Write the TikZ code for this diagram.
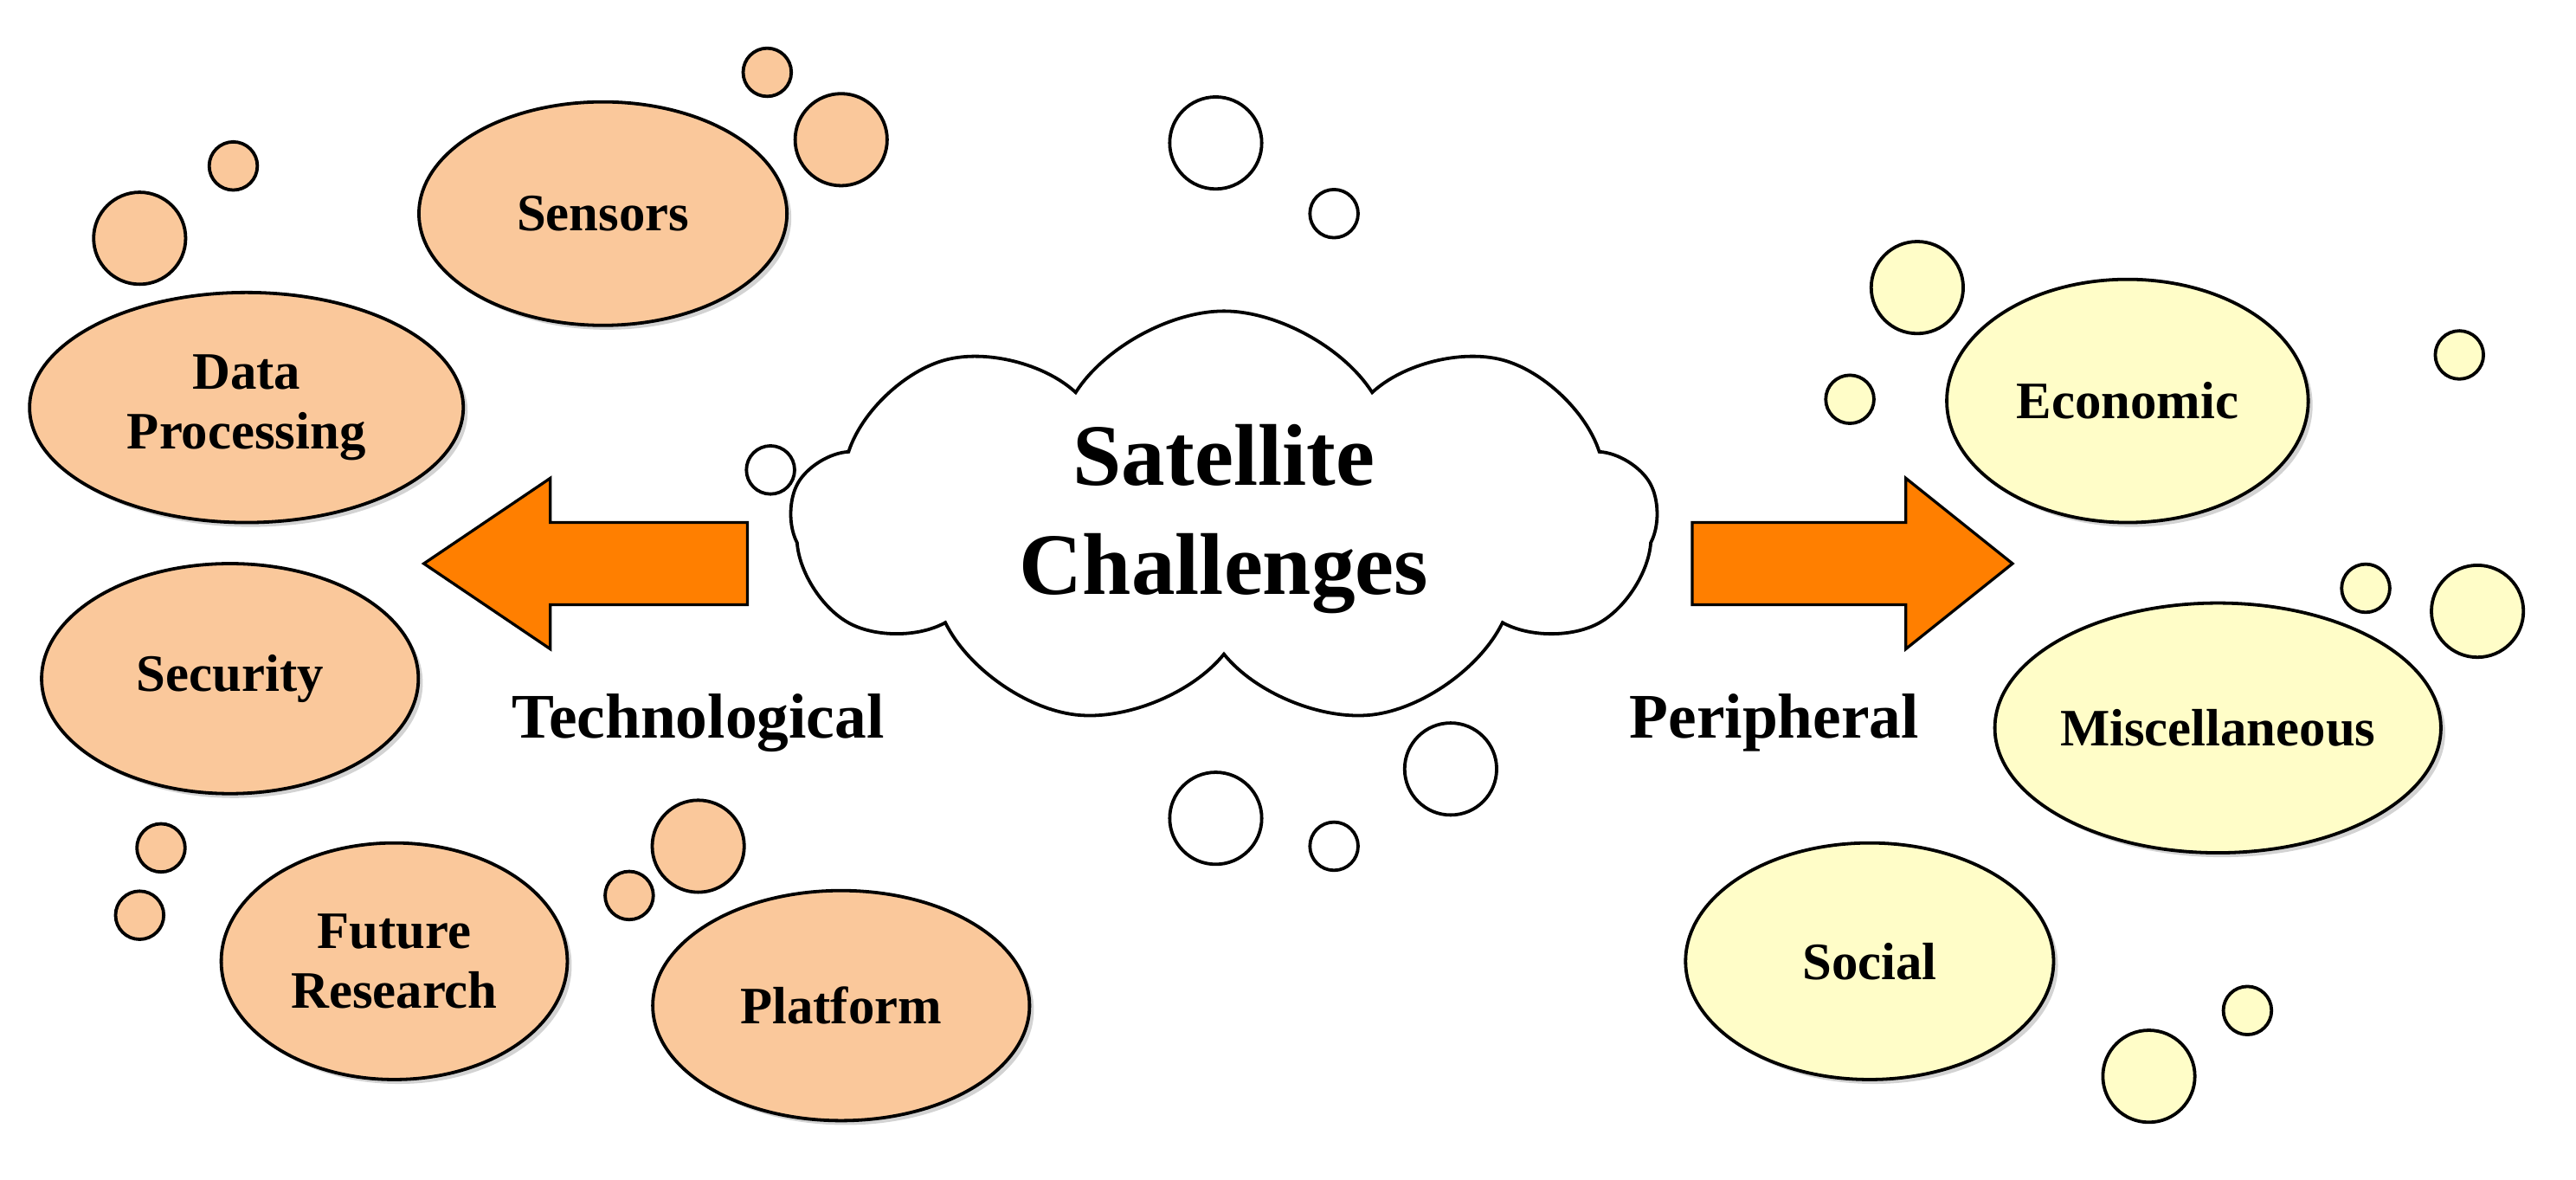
\documentclass[tikz,border=0pt]{standalone}
\usepackage{fontspec}
\setmainfont{Liberation Serif}
\usetikzlibrary{shapes.geometric,shapes.symbols,shadows}
\definecolor{tech}{RGB}{250,200,155}
\definecolor{peri}{RGB}{255,253,200}
\definecolor{arr}{RGB}{255,127,0}
\tikzset{
  topic/.style={ellipse,draw,line width=1.5pt,inner sep=0pt,font=\bfseries\fontsize{24}{27}\selectfont,align=center,
    drop shadow={shadow xshift=2pt,shadow yshift=-2pt,opacity=0.35}},
  bub/.style={circle,draw,line width=1.5pt,inner sep=0pt},
  big/.style={bub,minimum size=42pt},
  small/.style={bub,minimum size=22pt},
  side/.style={draw,fill=arr,line width=1.3pt,line join=miter},
  lbl/.style={font=\bfseries\fontsize{29}{33}\selectfont}
}
\begin{document}
\begin{tikzpicture}[x=0.75pt,y=0.75pt,yscale=-1,xscale=1]
\useasboundingbox (0,0) rectangle (1568,718);

% cloud
\node [cloud,draw,line width=1.5pt,fill=white,cloud puffs=9,cloud puff arc=115,aspect=2.1,minimum width=395pt,minimum height=190pt,align=center,font=\bfseries\fontsize{40}{50}\selectfont] (sat) at (745,316) {Satellite\\Challenges};

% technological
\node [topic,fill=tech,minimum width=168pt,minimum height=102pt] (sensors) at (367,130) {Sensors};
\node [topic,fill=tech,minimum width=198pt,minimum height=105pt] (data) at (150,248) {Data\\Processing};
\node [topic,fill=tech,minimum width=172pt,minimum height=105pt] (security) at (140,413) {Security};
\node [topic,fill=tech,minimum width=158pt,minimum height=108pt] (future) at (240,585) {Future\\Research};
\node [topic,fill=tech,minimum width=172pt,minimum height=105pt] (platform) at (512,612) {Platform};

% peripheral
\node [topic,fill=peri,minimum width=165pt,minimum height=111pt] (economic) at (1295,244) {Economic};
\node [topic,fill=peri,minimum width=162pt,minimum height=114pt] (misc) at (1350,443) {Miscellaneous};
\node [topic,fill=peri,minimum width=168pt,minimum height=108pt] (social) at (1138,585) {Social};

% bubbles
\foreach \p/\s in {{(467,44)}/small,{(512,85)}/big,{(142,101)}/small,{(85,145)}/big,{(98,516)}/small,{(85,557)}/small,{(383,545)}/small,{(425,515)}/big}
  \node [\s,fill=tech] at \p {};
\foreach \p/\s in {{(740,87)}/big,{(812,130)}/small,{(469,286)}/small,{(740,498)}/big,{(812,515)}/small,{(883,468)}/big}
  \node [\s,fill=white] at \p {};
\foreach \p/\s in {{(1167,175)}/big,{(1126,243)}/small,{(1497,216)}/small,{(1440,358)}/small,{(1508,372)}/big,{(1368,615)}/small,{(1308,655)}/big}
  \node [\s,fill=peri] at \p {};

% arrows
\coordinate (ltip) at (258,343);
\coordinate (rtip) at (1225,343);
\draw [side] (ltip) -- ++(77,-52) -- ++(0,27) -- ++(120,0) -- ++(0,50) -- ++(-120,0) -- ++(0,27) -- cycle;
\draw [side] (rtip) -- ++(-65,-52) -- ++(0,27) -- ++(-130,0) -- ++(0,50) -- ++(130,0) -- ++(0,27) -- cycle;
\node [lbl] (techl) at (425,440) {Technological};
\node [lbl] (peril) at (1080,440) {Peripheral};
\end{tikzpicture}
\end{document}
